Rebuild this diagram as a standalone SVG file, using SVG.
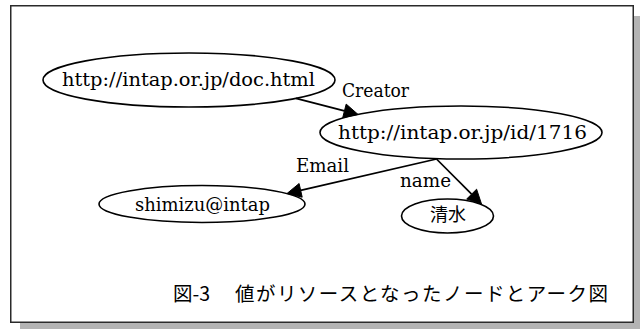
<svg xmlns="http://www.w3.org/2000/svg" width="640" height="329" viewBox="0 0 640 329">
  <style>
    .node ellipse { fill: none; stroke: #000; stroke-width: 1.6; }
    .lbl { font-family: "DejaVu Serif", "Liberation Serif", serif; font-size: 18px; fill: #000; }
    .cjk { font-family: "Noto Sans CJK JP", "Noto Sans", sans-serif; fill: #000; }
    .edge line { stroke: #000; stroke-width: 1.7; }
    .edge polygon { fill: #000; stroke: #000; stroke-width: 1; }
  </style>
  <rect x="0" y="0" width="640" height="329" fill="#fff"/>
  <g id="frame">
    <rect x="20" y="16" width="620" height="313" fill="#b3b3b3"/>
    <rect x="10.75" y="5.75" width="622.5" height="316.5" fill="#fff" stroke="#2a2a2a" stroke-width="1.5"/>
  </g>
  <g id="connectors" class="edge">
    <g id="e-creator">
      <line x1="296" y1="98.4" x2="344.4" y2="110.9"/>
      <polygon points="358,114.4 342.7,117.7 346.2,104.1"/>
      <text class="lbl" x="342" y="97" textLength="67" lengthAdjust="spacingAndGlyphs">Creator</text>
    </g>
    <g id="e-email">
      <line x1="436.5" y1="159" x2="300.6" y2="190.4"/>
      <polygon points="287,193.5 299.1,183.5 302.2,197.2"/>
      <text class="lbl" x="296" y="172" textLength="53" lengthAdjust="spacingAndGlyphs">Email</text>
    </g>
    <g id="e-name">
      <line x1="436.5" y1="159" x2="471.6" y2="194.1"/>
      <polygon points="481.5,204 466.7,199 476.6,189.2"/>
      <text class="lbl" x="400" y="187.3" textLength="51" lengthAdjust="spacingAndGlyphs">name</text>
    </g>
  </g>
  <g id="n-doc" class="node">
    <ellipse cx="189" cy="80" rx="146" ry="27"/>
    <text class="lbl" x="62" y="85.8" textLength="253" lengthAdjust="spacingAndGlyphs">http://intap.or.jp/doc.html</text>
  </g>
  <g id="n-id" class="node">
    <ellipse cx="461" cy="132.5" rx="141" ry="26.5"/>
    <text class="lbl" x="338" y="138.5" textLength="249" lengthAdjust="spacingAndGlyphs">http://intap.or.jp/id/1716</text>
  </g>
  <g id="n-email" class="node">
    <ellipse cx="202" cy="204" rx="103" ry="18.5"/>
    <text class="lbl" x="135" y="210.7" textLength="135" lengthAdjust="spacingAndGlyphs">shimizu@intap</text>
  </g>
  <g id="n-name" class="node">
    <ellipse cx="447.5" cy="216" rx="46" ry="17"/>
    <text class="cjk" x="430" y="220.5" font-size="18">清水</text>
  </g>
  <g id="caption">
    <text class="cjk" x="173" y="300.5" font-size="19.5">図-3</text>
    <text class="cjk" x="235" y="300.5" font-size="19.5" textLength="373" lengthAdjust="spacing">値がリソースとなったノードとアーク図</text>
  </g>
</svg>
